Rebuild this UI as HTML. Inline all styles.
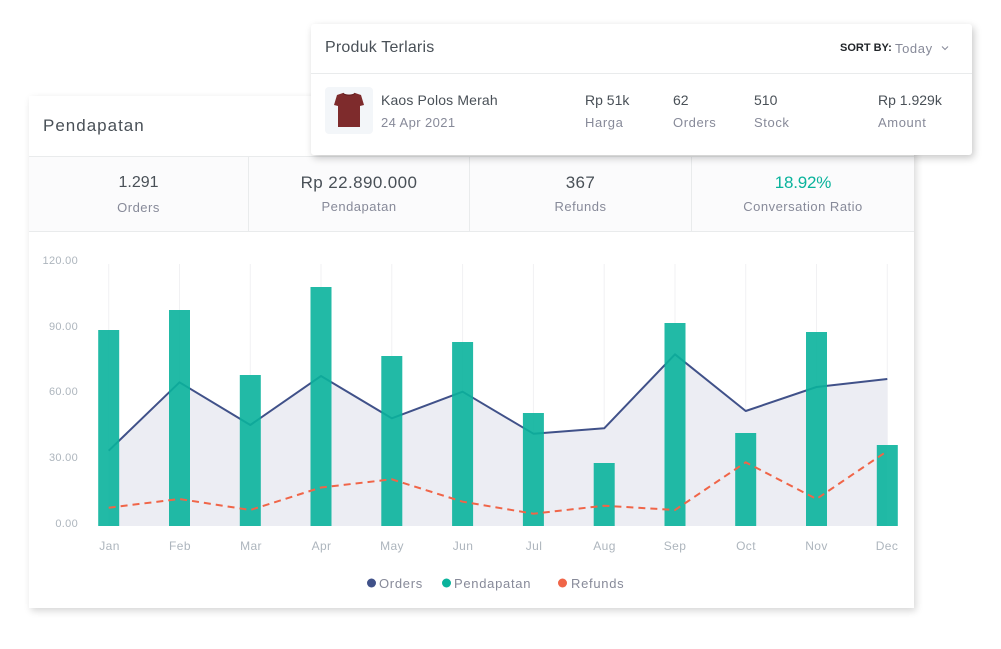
<!DOCTYPE html>
<html>
<head>
<meta charset="utf-8">
<style>
*{margin:0;padding:0;box-sizing:border-box;}
html,body{width:1001px;height:649px;overflow:hidden;background:#fff;font-family:"Liberation Sans",sans-serif;}
.abs{position:absolute;white-space:nowrap;}
#main{position:absolute;left:29px;top:96px;width:885px;height:512px;background:#fff;box-shadow:2px 3px 7px rgba(0,0,0,0.16);z-index:1;}
#top{position:absolute;left:311px;top:24px;width:661px;height:131px;background:#fff;box-shadow:2px 3px 8px rgba(0,0,0,0.22);border-radius:3px;z-index:3;}
#chart{position:absolute;left:0;top:0;z-index:2;}
.dark{color:#495057;}
.muted{color:#878a99;}
</style>
</head>
<body>
<div id="main">
  <div class="abs dark" style="left:14px;top:20px;font-size:17px;letter-spacing:1px;line-height:20px;">Pendapatan</div>
  <div style="position:absolute;left:0;top:60px;width:885px;height:76px;background:#fbfbfc;border-top:1px solid #e9ebec;border-bottom:1px solid #e9ebec;"></div>
  <div style="position:absolute;left:219px;top:60px;width:1px;height:76px;background:#e9ebec;"></div>
  <div style="position:absolute;left:440px;top:60px;width:1px;height:76px;background:#e9ebec;"></div>
  <div style="position:absolute;left:662px;top:60px;width:1px;height:76px;background:#e9ebec;"></div>

  <div class="abs dark" style="left:0;width:219px;text-align:center;top:78px;font-size:16px;letter-spacing:0px;line-height:18px;">1.291</div>
  <div class="abs muted" style="left:0;width:219px;text-align:center;top:104px;font-size:13px;letter-spacing:0.5px;line-height:15px;">Orders</div>

  <div class="abs dark" style="left:220px;width:220px;text-align:center;top:78px;font-size:17px;letter-spacing:0.4px;line-height:18px;">Rp 22.890.000</div>
  <div class="abs muted" style="left:220px;width:220px;text-align:center;top:103px;font-size:13px;letter-spacing:0.5px;line-height:15px;">Pendapatan</div>

  <div class="abs dark" style="left:441px;width:221px;text-align:center;top:78px;font-size:17px;letter-spacing:0.4px;line-height:18px;">367</div>
  <div class="abs muted" style="left:441px;width:221px;text-align:center;top:103px;font-size:13px;letter-spacing:0.5px;line-height:15px;">Refunds</div>

  <div class="abs" style="left:663px;width:222px;text-align:center;top:78px;font-size:17px;letter-spacing:-0.2px;line-height:18px;color:#0ab39c;">18.92%</div>
  <div class="abs muted" style="left:663px;width:222px;text-align:center;top:103px;font-size:13px;letter-spacing:0.5px;line-height:15px;">Conversation Ratio</div>
</div>

<svg id="chart" width="1001" height="649" viewBox="0 0 1001 649" xmlns="http://www.w3.org/2000/svg">
  <g stroke="#f1f1f3" stroke-width="1">
    <line x1="108.7" y1="264" x2="108.7" y2="526"/>
    <line x1="179.5" y1="264" x2="179.5" y2="526"/>
    <line x1="250.3" y1="264" x2="250.3" y2="526"/>
    <line x1="321.0" y1="264" x2="321.0" y2="526"/>
    <line x1="391.8" y1="264" x2="391.8" y2="526"/>
    <line x1="462.6" y1="264" x2="462.6" y2="526"/>
    <line x1="533.4" y1="264" x2="533.4" y2="526"/>
    <line x1="604.2" y1="264" x2="604.2" y2="526"/>
    <line x1="675.0" y1="264" x2="675.0" y2="526"/>
    <line x1="745.7" y1="264" x2="745.7" y2="526"/>
    <line x1="816.5" y1="264" x2="816.5" y2="526"/>
    <line x1="887.3" y1="264" x2="887.3" y2="526"/>
  </g>
  <g font-family="Liberation Sans, sans-serif" font-size="11" fill="#adb5bd" text-anchor="end" letter-spacing="0.3">
    <text x="78" y="264">120.00</text>
    <text x="78" y="330">90.00</text>
    <text x="78" y="395">60.00</text>
    <text x="78" y="461">30.00</text>
    <text x="78" y="527">0.00</text>
  </g>
  <polygon fill="#ecedf3" points="108.7,450.7 179.5,382.3 250.3,425 321.0,376 391.8,418.3 462.6,391.7 533.4,433.7 604.2,428.3 675.0,354.3 745.7,411 816.5,387 887.3,379 887.3,526 108.7,526"/>
  <polyline fill="none" stroke="#405189" stroke-width="2" stroke-linejoin="round" points="108.7,450.7 179.5,382.3 250.3,425 321.0,376 391.8,418.3 462.6,391.7 533.4,433.7 604.2,428.3 675.0,354.3 745.7,411 816.5,387 887.3,379"/>
  <g fill="#0ab39c" fill-opacity="0.9">
    <rect x="98.2" y="330" width="21" height="196"/>
    <rect x="169.0" y="310" width="21" height="216"/>
    <rect x="239.8" y="375" width="21" height="151"/>
    <rect x="310.5" y="287" width="21" height="239"/>
    <rect x="381.3" y="356" width="21" height="170"/>
    <rect x="452.1" y="342" width="21" height="184"/>
    <rect x="522.9" y="413" width="21" height="113"/>
    <rect x="593.7" y="463" width="21" height="63"/>
    <rect x="664.5" y="323" width="21" height="203"/>
    <rect x="735.2" y="433" width="21" height="93"/>
    <rect x="806.0" y="332" width="21" height="194"/>
    <rect x="876.8" y="445" width="21" height="81"/>
  </g>
  <polyline fill="none" stroke="#f06548" stroke-width="2" stroke-dasharray="7,5" points="108.7,507.7 179.5,499 250.3,510 321.0,487.5 391.8,479.3 462.6,501.7 533.4,513.7 604.2,505.7 675.0,510 745.7,462.3 816.5,499 887.3,451"/>
  <g font-family="Liberation Sans, sans-serif" font-size="12" fill="#adb5bd" text-anchor="middle" letter-spacing="0.4">
    <text x="109.5" y="550">Jan</text>
    <text x="180" y="550">Feb</text>
    <text x="251" y="550">Mar</text>
    <text x="321.5" y="550">Apr</text>
    <text x="392" y="550">May</text>
    <text x="463" y="550">Jun</text>
    <text x="534" y="550">Jul</text>
    <text x="604.5" y="550">Aug</text>
    <text x="675" y="550">Sep</text>
    <text x="746" y="550">Oct</text>
    <text x="816.5" y="550">Nov</text>
    <text x="887" y="550">Dec</text>
  </g>
  <circle cx="371.5" cy="583" r="4.5" fill="#405189"/>
  <circle cx="446.5" cy="583" r="4.5" fill="#0ab39c"/>
  <circle cx="562.5" cy="583" r="4.5" fill="#f06548"/>
  <g font-family="Liberation Sans, sans-serif" font-size="13" fill="#878a99" letter-spacing="0.7">
    <text x="379" y="588">Orders</text>
    <text x="454" y="588">Pendapatan</text>
    <text x="571" y="588">Refunds</text>
  </g>
</svg>

<div id="top">
  <div class="abs dark" style="left:14px;top:15px;font-size:16px;letter-spacing:0.2px;line-height:18px;">Produk Terlaris</div>
  <div class="abs" style="left:529px;top:18px;font-size:11px;font-weight:bold;color:#212529;line-height:13px;">SORT BY:</div>
  <div class="abs muted" style="left:584px;top:17px;font-size:13px;letter-spacing:0.6px;line-height:15px;">Today</div>
  <svg class="abs" style="left:630px;top:21px;" width="8" height="6" viewBox="0 0 8 6"><polyline points="1,1.5 4,4.5 7,1.5" fill="none" stroke="#878a99" stroke-width="1"/></svg>
  <div style="position:absolute;left:0;top:49px;width:661px;height:1px;background:#e9ebec;"></div>

  <div style="position:absolute;left:14px;top:63px;width:48px;height:47px;background:#f3f6f9;border-radius:4px;">
    <svg width="48" height="47" viewBox="0 0 48 47">
      <path d="M18,6 C20,8 28,8 30,6 L36,8 L39,18 L35,19 L35,40 L13,40 L13,19 L9,18 L12,8 Z" fill="#7e2b2c"/>
      <path d="M18,6 C20,9 28,9 30,6" fill="none" stroke="#5e1d1e" stroke-width="0.8"/>
    </svg>
  </div>
  <div class="abs dark" style="left:70px;top:68px;font-size:14px;letter-spacing:0.15px;line-height:16px;">Kaos Polos Merah</div>
  <div class="abs muted" style="left:70px;top:91px;font-size:13px;letter-spacing:0.4px;line-height:15px;">24 Apr 2021</div>

  <div class="abs dark" style="left:274px;top:68px;font-size:14px;line-height:16px;">Rp 51k</div>
  <div class="abs muted" style="left:274px;top:91px;font-size:13px;letter-spacing:0.6px;line-height:15px;">Harga</div>

  <div class="abs dark" style="left:362px;top:68px;font-size:14px;line-height:16px;">62</div>
  <div class="abs muted" style="left:362px;top:91px;font-size:13px;letter-spacing:0.6px;line-height:15px;">Orders</div>

  <div class="abs dark" style="left:443px;top:68px;font-size:14px;line-height:16px;">510</div>
  <div class="abs muted" style="left:443px;top:91px;font-size:13px;letter-spacing:0.6px;line-height:15px;">Stock</div>

  <div class="abs dark" style="left:567px;top:68px;font-size:14px;line-height:16px;">Rp 1.929k</div>
  <div class="abs muted" style="left:567px;top:91px;font-size:13px;letter-spacing:0.6px;line-height:15px;">Amount</div>
</div>
</body>
</html>
